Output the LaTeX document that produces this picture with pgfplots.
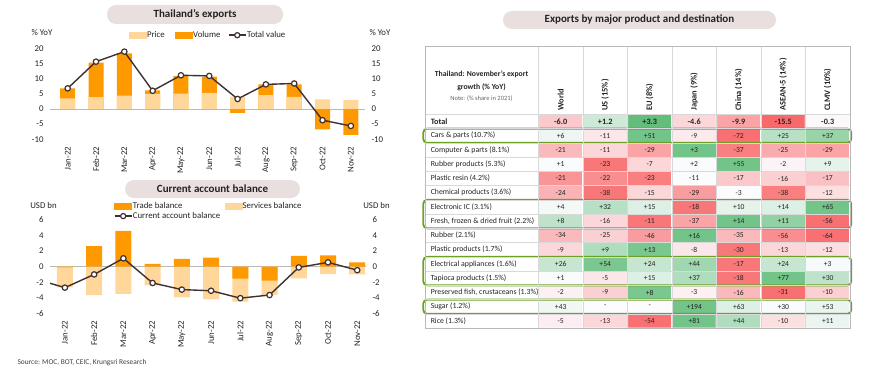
\documentclass[border=0pt]{standalone}
\usepackage{fontspec}
\setmainfont{Carlito}
\usepackage{pgfplots}
\pgfplotsset{compat=1.18}
\usepackage{pgfplotstable}

\definecolor{lightor}{RGB}{255,215,155}
\definecolor{darkor}{RGB}{255,153,0}
\definecolor{lineC}{RGB}{64,48,48}
\definecolor{pill}{RGB}{233,223,223}
\definecolor{boxg}{RGB}{110,160,40}
\definecolor{txt}{RGB}{35,35,35}

% Thailand's exports (% YoY)
\pgfplotstableread{
x p vb t
0 3.5 6.8 6.8
1 3.9 15.3 15.6
2 4.4 18.35 18.9
3 5.0 6.15 6.0
4 5.05 10.9 11.1
5 5.3 10.7 10.9
6 4.0 -1.3 3.3
7 4.6 8.1 8.1
8 4.0 8.1 8.4
9 3.2 -6.7 -3.7
10 3.0 -8.5 -5.6
}\expA

% Current account (USD bn)
\pgfplotstableread{
x tr sv ca
-1 nan nan -1.6
0 -0.1 -2.65 -2.7
1 2.65 -3.65 -1.0
2 4.6 -3.5 1.07
3 0.35 -2.4 -2.1
4 1.0 -3.95 -2.95
5 1.15 -4.2 -3.1
6 -1.55 -4.5 -4.05
7 -1.8 -3.65 -3.65
8 1.4 -1.5 -0.1
9 1.45 -0.95 0.55
10 0.55 -1.0 -0.45
}\cab

% Heat table: x=destination, y=row, c=colour intensity, lab=value
\pgfplotstableread{
x y c lab
0 0 -0.35 -6.0
1 0 0.3 +1.2
2 0 1.0 +3.3
3 0 -0.25 -4.6
4 0 -0.6 -9.9
5 0 -1.0 -15.5
6 0 -0.03 -0.3
0 1 0.1 +6
1 1 -0.15 -11
2 1 0.9 +51
3 1 -0.12 -9
4 1 -0.95 -72
5 1 0.45 +25
6 1 0.65 +37
0 2 -0.45 -21
1 2 -0.25 -11
2 2 -0.6 -29
3 2 0.9 +3
4 2 -0.85 -37
5 2 -0.55 -25
6 2 -0.6 -29
0 3 0.02 +1
1 3 -0.9 -23
2 3 -0.25 -7
3 3 0.02 +2
4 3 0.9 +55
5 3 -0.06 -2
6 3 0.15 +9
0 4 -0.7 -21
1 4 -0.75 -22
2 4 -0.85 -23
3 4 0.0 -11
4 4 -0.35 -17
5 4 -0.3 -16
6 4 -0.4 -17
0 5 -0.5 -24
1 5 -0.9 -38
2 5 -0.25 -15
3 5 -0.65 -29
4 5 0.0 -3
5 5 -0.85 -38
6 5 -0.2 -12
0 6 0.05 +4
1 6 0.45 +32
2 6 0.2 +15
3 6 -0.9 -18
4 6 0.15 +10
5 6 0.2 +14
6 6 0.9 +65
0 7 0.4 +8
1 7 -0.25 -16
2 7 -0.9 -11
3 7 -0.6 -37
4 7 0.9 +14
5 7 0.7 +11
6 7 -0.95 -56
0 8 -0.45 -34
1 8 -0.3 -25
2 8 -0.65 -46
3 8 0.9 +16
4 8 -0.45 -35
5 8 -0.75 -56
6 8 -0.95 -64
0 9 -0.25 -9
1 9 0.5 +9
2 9 0.85 +13
3 9 -0.15 -8
4 9 -0.9 -30
5 9 -0.25 -13
6 9 -0.2 -12
0 10 0.35 +26
1 10 0.85 +54
2 10 0.35 +24
3 10 0.6 +44
4 10 -0.9 -17
5 10 0.35 +24
6 10 0.03 +3
0 11 0.02 +1
1 11 -0.15 -5
2 11 0.2 +15
3 11 0.5 +37
4 11 -0.9 -18
5 11 0.9 +77
6 11 0.4 +30
0 12 -0.08 -2
1 12 -0.3 -9
2 12 0.85 +8
3 12 -0.08 -3
4 12 -0.45 -16
5 12 -0.95 -31
6 12 -0.3 -10
0 13 0.08 +43
1 13 0.0 -
2 13 0.0 -
3 13 0.9 +194
4 13 0.2 +63
5 13 0.02 +30
6 13 0.12 +53
0 14 -0.1 -5
1 14 -0.25 -13
2 14 -0.95 -54
3 14 0.9 +81
4 14 0.5 +44
5 14 -0.2 -10
6 14 0.12 +11
}\heat

\newcommand{\tk}{\fontsize{8.8}{10}\selectfont}
\newcommand{\lb}{\fontsize{7.8}{9}\selectfont}
\newcommand{\hd}{\fontsize{8.4}{9}\selectfont}
\newcommand{\vl}{\fontsize{7.6}{9}\selectfont}

\pgfplotsset{
  leftchart/.style={
    scale only axis, anchor=south west,
    axis line style={draw=none},
    major tick length=0pt,
    ticklabel style={font=\tk, text=txt},
    /pgf/number format/assume math mode=true,
    xtick={0,...,10},
    xticklabels={Jan-22,Feb-22,Mar-22,Apr-22,May-22,Jun-22,Jul-22,Aug-22,Sep-22,Oct-22,Nov-22},
    xticklabel style={rotate=90, anchor=east},
    xticklabel shift=4pt,
    yticklabel shift=3pt,
    extra y ticks={0},
    extra y tick labels={},
    extra y tick style={grid=major, major grid style={gray!55, line width=0.7pt}},
    legend cell align=left,
  },
  swatch/.style={legend image code/.code={\fill[#1] (0pt,-3pt) rectangle (17pt,3pt);}},
  leg/.style={draw=none, fill=none, font=\tk, text=txt, /tikz/column sep=0pt,
    nodes={inner xsep=0.5pt, inner ysep=1pt}},
}

\begin{document}
\begin{tikzpicture}[x=1pt,y=1pt]
\path[use as bounding box] (0,0) rectangle (870,389);

% ---------- Chart 1: Thailand's exports ----------
\node[fill=pill, rounded corners=9pt, minimum width=176pt, minimum height=19pt,
      font=\bfseries\fontsize{11}{13}\selectfont, text=txt] at (195,374.5) {Thailand’s exports};
\node[font=\tk, text=txt] at (42,356) {\% YoY};
\node[font=\tk, text=txt] at (380,356) {\% YoY};

\begin{axis}[leftchart, at={(50pt,249.7pt)}, width=315pt, height=91pt,
  xmin=-0.625, xmax=10.5, ymin=-10, ymax=20, ytick={-10,-5,...,20},
  legend columns=3,
  legend style={leg, at={(0.50,1.221)}, anchor=north},
]
\addlegendimage{swatch=lightor}\addlegendentry{Price\hspace*{10pt}}
\addlegendimage{swatch=darkor}\addlegendentry{Volume\hspace*{7pt}}
\addlegendimage{lineC, line width=1.4pt, mark=*, mark size=2.6pt, mark options={fill=white, draw=lineC, line width=1.2pt}}\addlegendentry{Total value}
\addplot[ybar, bar width=15pt, bar shift=0pt, fill=darkor, draw=none, forget plot] table[x=x,y=vb]{\expA};
\addplot[ybar, bar width=15pt, bar shift=0pt, fill=lightor, draw=none, forget plot] table[x=x,y=p]{\expA};
\addplot[lineC, line width=1.4pt, mark=*, mark size=2.7pt, mark options={fill=white, draw=lineC, line width=1.2pt}, forget plot] table[x=x,y=t]{\expA};
\end{axis}
\begin{axis}[leftchart, at={(50pt,249.7pt)}, width=315pt, height=91pt,
  xmin=-0.625, xmax=10.5, ymin=-10, ymax=20, ytick={-10,-5,...,20},
  hide x axis, yticklabel pos=right, extra y ticks={}]
\end{axis}

% ---------- Chart 2: Current account balance ----------
\node[fill=pill, rounded corners=9pt, minimum width=175pt, minimum height=18pt,
      font=\bfseries\fontsize{11}{13}\selectfont, text=txt] at (212.5,200) {Current account balance};
\node[font=\tk, text=txt] at (43.5,183.3) {USD bn};
\node[font=\tk, text=txt] at (376.5,183.3) {USD bn};

\begin{axis}[leftchart, at={(50pt,75.7pt)}, width=316pt, height=93.3pt,
  xmin=-0.51, xmax=10.3, ymin=-6, ymax=6, ytick={-6,-4,...,6},
  legend columns=2,
  legend style={leg, at={(0.5,1.22)}, anchor=north},
]
\addlegendimage{swatch=darkor}\addlegendentry{Trade balance}
\addlegendimage{swatch=lightor}\addlegendentry{Services balance}
\addlegendimage{lineC, line width=1.4pt, mark=*, mark size=2.6pt, mark options={fill=white, draw=lineC, line width=1.2pt}}\addlegendentry{Current account balance\hspace*{4pt}}
\addplot[ybar, bar width=16pt, bar shift=0pt, fill=lightor, draw=none, forget plot] table[x=x,y=sv]{\cab};
\addplot[ybar, bar width=16pt, bar shift=0pt, fill=darkor, draw=none, forget plot] table[x=x,y=tr]{\cab};
\addplot[lineC, line width=1.4pt, mark=*, mark size=2.7pt, mark options={fill=white, draw=lineC, line width=1.2pt}, forget plot] table[x=x,y=ca]{\cab};
\end{axis}
\begin{axis}[leftchart, at={(50pt,75.7pt)}, width=316pt, height=93.3pt,
  xmin=-0.51, xmax=10.3, ymin=-6, ymax=6, ytick={-6,-4,...,6},
  hide x axis, yticklabel pos=right, extra y ticks={}]
\end{axis}

\node[anchor=west, font=\fontsize{7.4}{8}\selectfont, text=black!75] at (14,26) {Source: MOC, BOT, CEIC, Krungsri Research};

% ---------- Table: exports by product and destination ----------
\node[fill=pill, rounded corners=9pt, minimum width=273pt, minimum height=18pt,
      font=\bfseries\fontsize{11}{13}\selectfont, text=txt] at (639.5,369) {Exports by major product and destination};

\begin{axis}[scale only axis, at={(425pt,60.9pt)}, anchor=south west,
  width=425pt, height=281.4pt,
  xmin=-3.05, xmax=6.5, ymin=-5.25, ymax=14.5, y dir=reverse, clip=false,
  axis line style={gray!55, line width=0.6pt},
  xtick={-0.5,0.5,1.5,2.5,3.5,4.5,5.5},
  ytick={-0.5,0.5,1.5,2.5,3.5,4.5,5.5,6.5,7.5,8.5,9.5,10.5,11.5,12.5,13.5},
  xticklabels={}, yticklabels={}, major tick length=0pt,
  grid=major, major grid style={gray!30, line width=0.5pt},
  colormap={rwg}{rgb255(0cm)=(248,105,107); rgb255(1cm)=(252,252,255); rgb255(2cm)=(99,190,123)},
  point meta min=-1, point meta max=1,
]
\addplot[matrix plot, mesh/cols=7, point meta=explicit, draw=white, faceted color=white, line width=1.2pt]
  table[x=x,y=y,meta=c]{\heat};
\addplot[only marks, mark=none, point meta=explicit symbolic, nodes near coords,
  nodes near coords style={anchor=center, font=\vl, text=txt},
  skip coords between index={0}{7}]
  table[x=x,y=y,meta=lab]{\heat};
\addplot[only marks, mark=none, point meta=explicit symbolic, nodes near coords,
  nodes near coords style={anchor=center, font=\bfseries\fontsize{8.2}{9}\selectfont, text=txt},
  skip coords between index={7}{105}]
  table[x=x,y=y,meta=lab]{\heat};

% column headers
\foreach \i/\h in {0/World,1/US (15\%),2/EU (8\%),3/Japan (9\%),4/China (14\%),5/ASEAN-5 (14\%),6/CLMV (10\%)}{
  \edef\tmp{\noexpand\node[rotate=90, anchor=west, inner sep=1pt, font=\noexpand\bfseries\noexpand\hd, text=txt] at (axis cs:\i,-0.68) {\h};}
  \tmp
}
\node[align=center, font=\bfseries\fontsize{7.7}{13}\selectfont, text=txt] at (axis cs:-1.78,-2.87) {Thailand: November’s export\\growth (\% YoY)};
\node[font=\fontsize{6.5}{7}\selectfont, text=black!60] at (axis cs:-1.78,-1.58) {Note: (\% share in 2021)};

% row labels
\node[anchor=west, font=\bfseries\fontsize{8.2}{9}\selectfont, text=txt] at (axis cs:-3.0,0) {Total};
\node[anchor=west, font=\lb, text=txt] at (axis cs:-3.0,1) {Cars  \& parts (10.7\%)};
\node[anchor=west, font=\lb, text=txt] at (axis cs:-3.0,2) {Computer \& parts (8.1\%)};
\node[anchor=west, font=\lb, text=txt] at (axis cs:-3.0,3) {Rubber products (5.3\%)};
\node[anchor=west, font=\lb, text=txt] at (axis cs:-3.0,4) {Plastic resin (4.2\%)};
\node[anchor=west, font=\lb, text=txt] at (axis cs:-3.0,5) {Chemical products (3.6\%)};
\node[anchor=west, font=\lb, text=txt] at (axis cs:-3.0,6) {Electronic IC (3.1\%)};
\node[anchor=west, font=\lb, text=txt] at (axis cs:-3.0,7) {Fresh, frozen \& dried fruit (2.2\%)};
\node[anchor=west, font=\lb, text=txt] at (axis cs:-3.0,8) {Rubber (2.1\%)};
\node[anchor=west, font=\lb, text=txt] at (axis cs:-3.0,9) {Plastic products (1.7\%)};
\node[anchor=west, font=\lb, text=txt] at (axis cs:-3.0,10) {Electrical appliances (1.6\%)};
\node[anchor=west, font=\lb, text=txt] at (axis cs:-3.0,11) {Tapioca products (1.5\%)};
\node[anchor=west, font=\lb, text=txt] at (axis cs:-3.0,12) {Preserved fish, crustaceans (1.3\%)};
\node[anchor=west, font=\lb, text=txt] at (axis cs:-3.0,13) {Sugar (1.2\%)};
\node[anchor=west, font=\lb, text=txt] at (axis cs:-3.0,14) {Rice (1.3\%)};

% highlight boxes
\draw[boxg, line width=1.8pt, rounded corners=4pt] (axis cs:-3.09,0.5) rectangle (axis cs:6.53,1.5);
\draw[boxg, line width=1.8pt, rounded corners=4pt] (axis cs:-3.09,5.5) rectangle (axis cs:6.53,7.5);
\draw[boxg, line width=1.8pt, rounded corners=4pt] (axis cs:-3.09,9.5) rectangle (axis cs:6.53,11.5);
\draw[boxg, line width=1.8pt, rounded corners=4pt] (axis cs:-3.09,12.5) rectangle (axis cs:6.53,13.5);
\end{axis}
\end{tikzpicture}
\end{document}
